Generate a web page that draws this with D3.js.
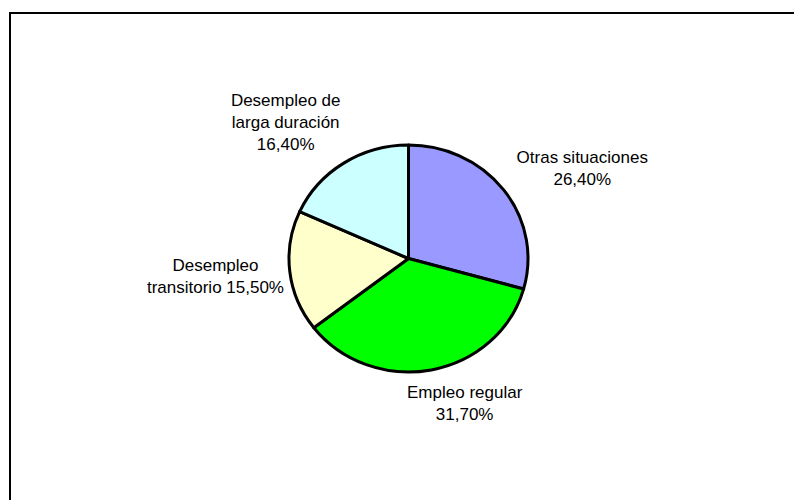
<!DOCTYPE html>
<html>
<head>
<meta charset="utf-8">
<script src="https://cdn.jsdelivr.net/npm/d3@7"></script>
<style>
  body { margin: 0; background: #fff; }
  svg { display: block; font-family: "Liberation Sans", Arial, sans-serif; }
</style>
</head>
<body>
<svg id="chart"></svg>
<script>
// chart data
const categories = ["Otras situaciones", "Empleo regular", "Desempleo transitorio", "Desempleo de larga duración"];
const values = [26.40, 31.70, 15.50, 16.40];
const colors = ["#9999FF", "#00FF00", "#FFFFCC", "#CCFFFF"];

const width = 794, height = 500;
const cx = 408.5, cy = 258.5;
const ry = 113.5, rx = 119.5;          // pie is slightly stretched horizontally
const labelR = 175;
const lineHeight = 22;
const wrapWidth = 140;
// small manual nudges so the labels sit where the original put them
const labelNudge = [[27, 15], [21, -27], [-10, -3], [-23, 11]];

const svg = d3.select("#chart")
    .attr("width", width)
    .attr("height", height);

// outer frame (cut off at right and bottom in the original)
svg.append("rect")
    .attr("x", 10).attr("y", 13)
    .attr("width", 820).attr("height", 520)
    .attr("fill", "none")
    .attr("stroke", "#000")
    .attr("stroke-width", 2);

const fmt = v => d3.format(".2f")(v).replace(".", ",") + "%";

const pieData = d3.pie().sort(null).value(d => d)(values);
const arc = d3.arc().innerRadius(0).outerRadius(ry);

const pieG = svg.append("g")
    .attr("transform", `translate(${cx},${cy}) scale(${rx / ry},1)`);

pieG.selectAll("path")
    .data(pieData)
    .enter()
    .append("path")
        .attr("d", arc)
        .attr("fill", (d, i) => colors[i])
        .attr("stroke", "#000")
        .attr("stroke-width", 3)
        .attr("stroke-linejoin", "round")
        .attr("vector-effect", "non-scaling-stroke");

// split label into lines no wider than wrapWidth
const measure = svg.append("text").attr("font-size", 17);
function wrapLines(str) {
    const words = str.split(" ");
    const lines = [];
    let line = [];
    words.forEach(w => {
        line.push(w);
        measure.text(line.join(" "));
        if (measure.node().getComputedTextLength() > wrapWidth && line.length > 1) {
            line.pop();
            lines.push(line.join(" "));
            line = [w];
        }
    });
    lines.push(line.join(" "));
    return lines;
}

pieData.forEach((d, i) => {
    const a = (d.startAngle + d.endAngle) / 2;
    const x = cx + Math.sin(a) * labelR * (rx / ry) + labelNudge[i][0];
    const y = cy - Math.cos(a) * labelR + labelNudge[i][1];
    const lines = wrapLines(categories[i] + " " + fmt(values[i]));
    const t = svg.append("text")
        .attr("text-anchor", "middle")
        .attr("font-size", 17)
        .attr("fill", "#000");
    lines.forEach((ln, j) => {
        t.append("tspan")
            .attr("x", x)
            .attr("y", y - (lines.length - 1) * lineHeight / 2 + j * lineHeight + 6)
            .text(ln);
    });
});
measure.remove();
</script>
</body>
</html>
